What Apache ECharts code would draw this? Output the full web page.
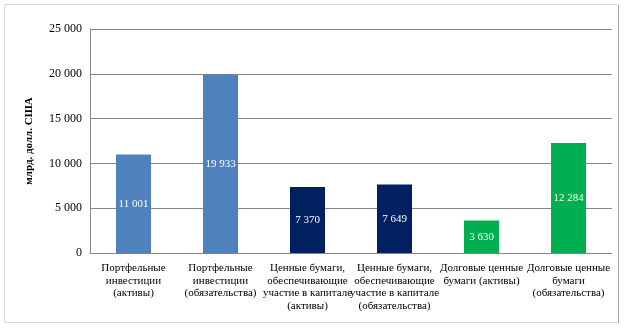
<!DOCTYPE html>
<html>
<head>
<meta charset="utf-8">
<script src="https://cdn.jsdelivr.net/npm/echarts@6/dist/echarts.min.js"></script>
<style>
  html, body { margin: 0; padding: 0; background: #fff; }
  #chart { width: 624px; height: 328px; }
</style>
</head>
<body>
<div id="chart"></div>
<script>
var categories = [
  'Портфельные\nинвестиции\n(активы)',
  'Портфельные\nинвестиции\n(обязательства)',
  'Ценные бумаги,\nобеспечивающие\nучастие в капитале\n(активы)',
  'Ценные бумаги,\nобеспечивающие\nучастие в капитале\n(обязательства)',
  'Долговые ценные\nбумаги (активы)',
  'Долговые ценные\nбумаги\n(обязательства)'
];
var values = [11001, 19933, 7370, 7649, 3630, 12284];
var barColors = ['#4f81bd', '#4f81bd', '#002060', '#002060', '#00b050', '#00b050'];
var yName = 'млрд. долл. США';

var font = '"Liberation Serif", "Times New Roman", serif';

function fmt(v) {
  return String(v).replace(/\B(?=(\d{3})+(?!\d))/g, ' ');
}

var chart = echarts.init(document.getElementById('chart'), null, { renderer: 'canvas' });
chart.setOption({
  animation: false,
  graphic: [{
    type: 'rect',
    shape: { x: 4.5, y: 4.5, width: 614, height: 318 },
    style: { fill: 'none', stroke: '#d9d9d9', lineWidth: 1 },
    silent: true
  }, {
    type: 'line',
    shape: { x1: 618.5, y1: 5, x2: 618.5, y2: 323 },
    style: { stroke: '#a6a6a6', lineWidth: 1 },
    silent: true
  }],
  grid: { left: 90, right: 12, top: 29, bottom: 75 },
  xAxis: {
    type: 'category',
    data: categories,
    axisLine: { lineStyle: { color: '#868686' } },
    axisTick: { show: false },
    axisLabel: {
      interval: 0,
      color: '#000',
      fontFamily: font,
      fontSize: 11,
      lineHeight: 12.5,
      margin: 9
    }
  },
  yAxis: {
    type: 'value',
    min: 0,
    max: 25000,
    interval: 5000,
    name: yName,
    nameLocation: 'middle',
    nameGap: 55,
    nameTextStyle: { color: '#000', fontFamily: font, fontSize: 11, fontWeight: 'bold' },
    axisLine: { show: true, lineStyle: { color: '#868686' } },
    axisTick: { show: false },
    splitLine: { lineStyle: { color: '#868686' } },
    axisLabel: {
      color: '#000',
      fontFamily: font,
      fontSize: 12,
      margin: 8,
      formatter: fmt
    }
  },
  series: [{
    type: 'bar',
    data: values.map(function(v, i) {
      return { value: v, itemStyle: { color: barColors[i] } };
    }),
    barWidth: 35,
    label: {
      show: true,
      position: 'inside',
      color: '#fff',
      fontFamily: font,
      fontSize: 11,
      formatter: function(p) { return fmt(p.value); }
    }
  }]
});
</script>
</body>
</html>
